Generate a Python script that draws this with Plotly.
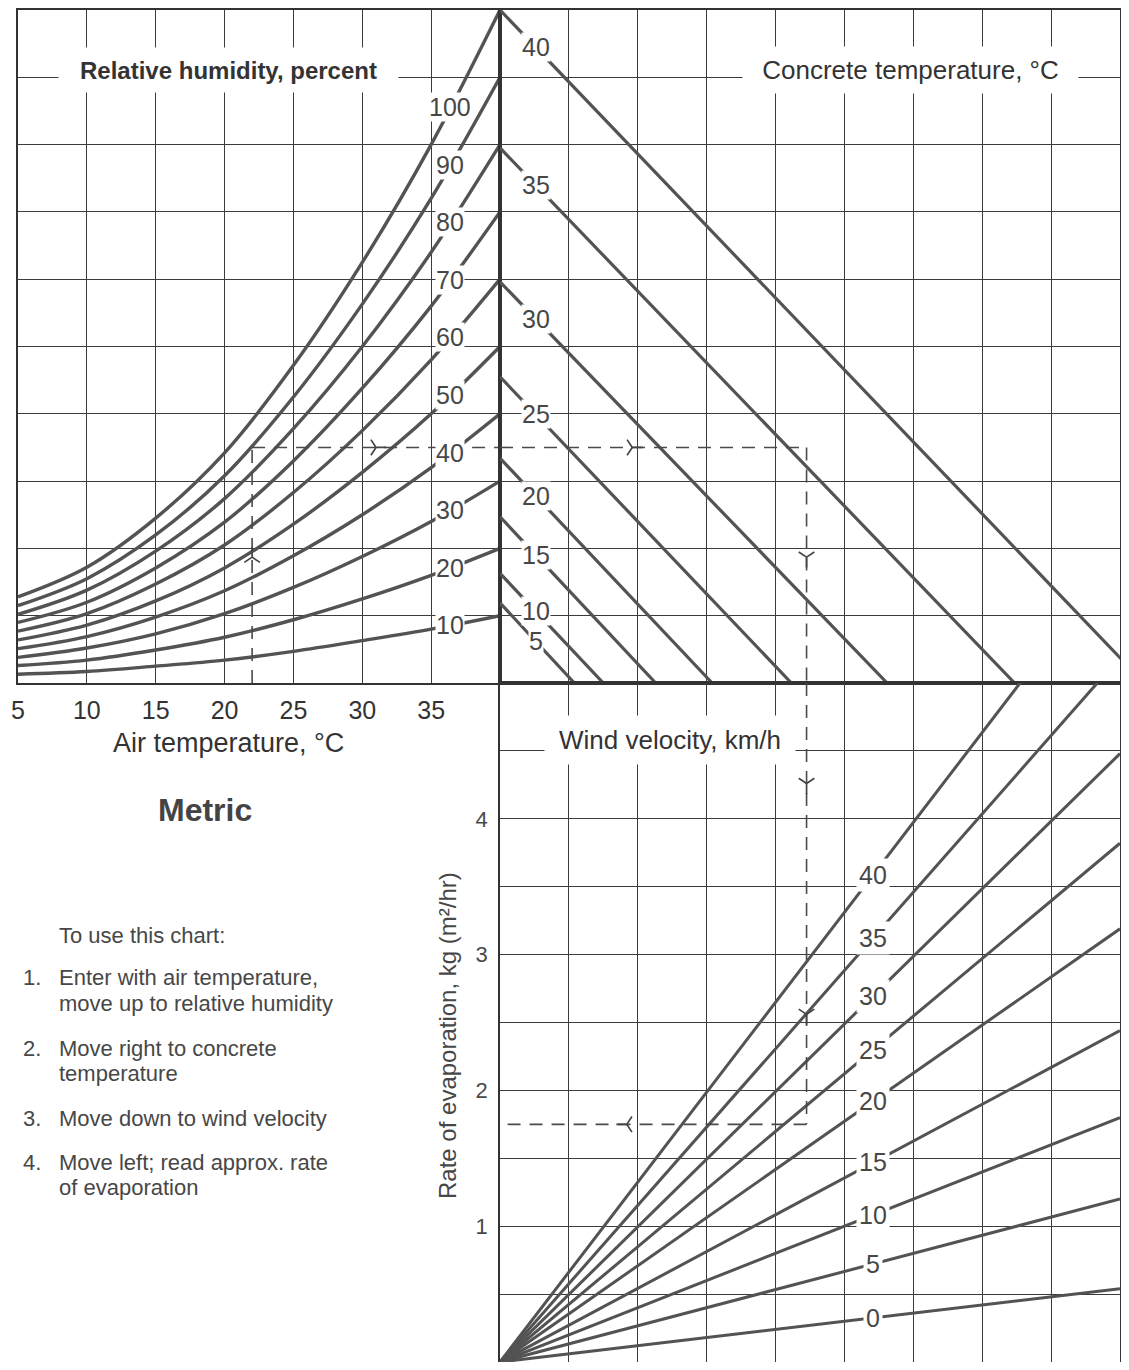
import numpy as np
import plotly.graph_objects as go

# page body has an 8px margin, so the figure is placed at (8, 8)
OFF = 8
FW, FH = 1113, 1354

# ---------------- data ----------------
air_temp = [5, 10, 15, 20, 25, 30, 35, 40]          # deg C
air_temp_ticks = [5, 10, 15, 20, 25, 30, 35]

rh_levels = [100, 90, 80, 70, 60, 50, 40, 30, 20, 10]   # percent
# vapour-pressure scale, in grid divisions above the base line of the upper panel
rh_100 = [1.28, 1.72, 2.45, 3.42, 4.72, 6.25, 8.00, 10.00]
rh_90 = [1.15, 1.55, 2.20, 3.08, 4.25, 5.63, 7.20, 9.00]
rh_80 = [1.02, 1.38, 1.96, 2.74, 3.78, 5.00, 6.40, 8.00]
rh_70 = [0.90, 1.20, 1.71, 2.39, 3.30, 4.38, 5.60, 7.00]
rh_60 = [0.77, 1.03, 1.47, 2.05, 2.83, 3.75, 4.80, 6.00]
rh_50 = [0.64, 0.86, 1.22, 1.71, 2.36, 3.13, 4.00, 5.00]
rh_40 = [0.51, 0.69, 0.98, 1.37, 1.89, 2.50, 3.20, 4.00]
rh_30 = [0.38, 0.52, 0.73, 1.03, 1.42, 1.88, 2.40, 3.00]
rh_20 = [0.26, 0.34, 0.49, 0.68, 0.94, 1.25, 1.60, 2.00]
rh_10 = [0.13, 0.17, 0.25, 0.34, 0.47, 0.63, 0.80, 1.00]
rh_curves = [rh_100, rh_90, rh_80, rh_70, rh_60, rh_50, rh_40, rh_30, rh_20, rh_10]

concrete_temp = [5, 10, 15, 20, 25, 30, 35, 40]                 # deg C
concrete_start = [1.19, 1.63, 2.47, 3.34, 4.55, 5.96, 7.95, 10.0]  # height on the centre line
concrete_end = [1.08, 1.50, 2.26, 3.08, 4.23, 5.62, 7.47, 9.35]    # where it meets the base line

wind_speed = [0, 5, 10, 15, 20, 25, 30, 35, 40]                     # km/h
evap_at_edge = [0.54, 1.20, 1.80, 2.44, 3.19, 3.82, 4.48, 5.19, 5.96]  # kg/(m2 h) at right edge

evap_ticks = [0, 0.5, 1, 1.5, 2, 2.5, 3, 3.5, 4, 4.5, 5]
evap_ticktext = ["0", "", "1", "", "2", "", "3", "", "4", "", ""]

# worked example (dashed path)
example_air_temp = 22.0
example_level = 3.5
example_x = 4.45
example_evap = 1.75

instructions = [
    ("", "To use this chart:"),
    ("1.", "Enter with air temperature,"),
    ("", "move up to relative humidity"),
    ("2.", "Move right to concrete"),
    ("", "temperature"),
    ("3.", "Move down to wind velocity"),
    ("4.", "Move left; read approx. rate"),
    ("", "of evaporation"),
]

# ---------------- styles ----------------
FONT = "Liberation Sans, Arial, Helvetica, sans-serif"
GRID = "#3b3b3b"
CURVE = "#535353"
TEXT = "#333333"
LTEXT = "#474747"


def px(x):
    return (x - OFF) / FW


def py(y):
    return 1 - (y - OFF) / FH


fig = go.Figure()

# relative humidity curves
for lvl, ys in zip(rh_levels, rh_curves):
    fig.add_trace(go.Scatter(x=air_temp, y=ys, mode="lines", xaxis="x", yaxis="y",
                             line=dict(color=CURVE, width=3.4, shape="spline", smoothing=1.0),
                             hoverinfo="skip", showlegend=False))

# concrete temperature lines
for t, y0, x1 in zip(concrete_temp, concrete_start, concrete_end):
    fig.add_trace(go.Scatter(x=[0, x1], y=[y0, 0], mode="lines", xaxis="x2", yaxis="y2",
                             line=dict(color=CURVE, width=3.2),
                             hoverinfo="skip", showlegend=False))

# wind velocity lines
for v, e in zip(wind_speed, evap_at_edge):
    fig.add_trace(go.Scatter(x=[0, 9], y=[0, e], mode="lines", xaxis="x3", yaxis="y3",
                             line=dict(color=CURVE, width=3.0),
                             hoverinfo="skip", showlegend=False))

# dashed example path
dash = dict(color="#4a4a4a", width=1.6, dash="13px,9px")
paths = [
    ("x", "y", [example_air_temp, example_air_temp], [0, example_level]),
    ("x", "y", [example_air_temp, 40], [example_level, example_level]),
    ("x2", "y2", [0, example_x], [example_level, example_level]),
    ("x2", "y2", [example_x, example_x], [example_level, 0]),
    ("x3", "y3", [example_x, example_x], [5, example_evap]),
    ("x3", "y3", [example_x, 0], [example_evap, example_evap]),
]
for xa, ya, xs, ys in paths:
    fig.add_trace(go.Scatter(x=xs, y=ys, mode="lines", xaxis=xa, yaxis=ya, line=dash,
                             hoverinfo="skip", showlegend=False))

# arrow heads along the example path
arrows = [
    ("x", "y", example_air_temp, 1.87, "y-up"),
    ("x", "y", 31.0, example_level, "y-right"),
    ("x2", "y2", 1.92, example_level, "y-right"),
    ("x2", "y2", example_x, 1.87, "y-down"),
    ("x3", "y3", example_x, 4.26, "y-down"),
    ("x3", "y3", example_x, 2.56, "y-down"),
    ("x3", "y3", 1.84, example_evap, "y-left"),
]
for xa, ya, xv, yv, sym in arrows:
    fig.add_trace(go.Scatter(x=[xv], y=[yv], mode="markers", xaxis=xa, yaxis=ya,
                             marker=dict(symbol=sym, size=13, color="#444",
                                         line=dict(color="#444", width=1.7)),
                             hoverinfo="skip", showlegend=False))

annotations = []

# relative humidity labels (sitting on their curves)
rh_label_t = 36.4
for lvl, ys in zip(rh_levels, rh_curves):
    annotations.append(dict(x=rh_label_t, y=float(np.interp(rh_label_t, air_temp, ys)),
                            xref="x", yref="y", text=str(lvl), showarrow=False,
                            xanchor="center", yanchor="middle",
                            font=dict(family=FONT, size=25, color=LTEXT),
                            bgcolor="white", borderpad=0))

# concrete temperature labels
for t, y0, x1 in zip(concrete_temp, concrete_start, concrete_end):
    lx = 0.52
    annotations.append(dict(x=lx, y=y0 - y0 / x1 * lx, xref="x2", yref="y2", text=str(t),
                            showarrow=False, xanchor="center", yanchor="middle",
                            font=dict(family=FONT, size=25, color=LTEXT),
                            bgcolor="white", borderpad=0))

# wind velocity labels
for v, e in zip(wind_speed, evap_at_edge):
    lx = 5.42
    annotations.append(dict(x=lx, y=e * lx / 9, xref="x3", yref="y3", text=str(v),
                            showarrow=False, xanchor="center", yanchor="middle",
                            font=dict(family=FONT, size=25, color=LTEXT),
                            bgcolor="white", borderpad=2))


def note(x, y, text, size, color=TEXT, **kw):
    d = dict(x=px(x), y=py(y), xref="paper", yref="paper", text=text, showarrow=False,
             xanchor="center", yanchor="middle", font=dict(family=FONT, size=size, color=color))
    d.update(kw)
    return d


# titles with white masks over the grid
annotations += [
    note(228.5, 70, "<b>Relative humidity, percent</b>", 24, bgcolor="white",
         width=339, height=44, borderpad=0),
    note(910, 70, "Concrete temperature, °C", 26, bgcolor="white",
         width=335, height=46, borderpad=0),
    note(670, 740, "Wind velocity, km/h", 26, bgcolor="white",
         width=250, height=48, borderpad=0),
    note(228, 743, "Air temperature, °C", 27),
    note(205, 810, "<b>Metric</b>", 32, color="#444"),
    note(447, 1036, "Rate of evaporation, kg (m²/hr)", 24, color=LTEXT, textangle=-90),
]

line_y = [935, 977, 1003, 1048, 1073, 1118, 1162, 1187]
for (num, txt), yy in zip(instructions, line_y):
    if num:
        annotations.append(note(21, yy, num, 22, color=LTEXT, xanchor="left"))
    annotations.append(note(57, yy, txt, 22, color=LTEXT, xanchor="left"))

common = dict(showgrid=True, gridcolor=GRID, gridwidth=1.4, zeroline=False,
              showline=True, linecolor="#333", linewidth=1.8, mirror=True,
              ticks="", fixedrange=True, automargin=False)

top_dom = [py(683), py(10)]
bot_dom = [max(py(1362), 0), py(683)]
right_dom = [px(500), min(px(1120), 1)]

fig.update_layout(
    width=FW, height=FH, margin=dict(l=0, r=0, t=0, b=0, autoexpand=False),
    paper_bgcolor="white", plot_bgcolor="white", showlegend=False,
    xaxis=dict(common, domain=[px(18), px(500)], range=[5, 40], tickmode="array",
               tickvals=air_temp_ticks, ticktext=[str(t) for t in air_temp_ticks],
               tickfont=dict(family=FONT, size=25, color=TEXT), ticklabelstandoff=4,
               anchor="y"),
    yaxis=dict(common, domain=top_dom, range=[0, 10], dtick=1, showticklabels=False,
               anchor="x"),
    xaxis2=dict(common, domain=right_dom, range=[0, 9], dtick=1, showticklabels=False,
                anchor="y2"),
    yaxis2=dict(common, domain=top_dom, range=[0, 10], dtick=1, showticklabels=False,
                anchor="x2"),
    xaxis3=dict(common, domain=right_dom, range=[0, 9], dtick=1, showticklabels=False,
                anchor="y3"),
    yaxis3=dict(common, domain=bot_dom, range=[0, 5], tickmode="array",
                tickvals=evap_ticks, ticktext=evap_ticktext,
                tickfont=dict(family=FONT, size=22, color="#4a4a4a"), ticklabelstandoff=6,
                anchor="x3"),
    annotations=annotations,
)

fig.write_html("out.html")
